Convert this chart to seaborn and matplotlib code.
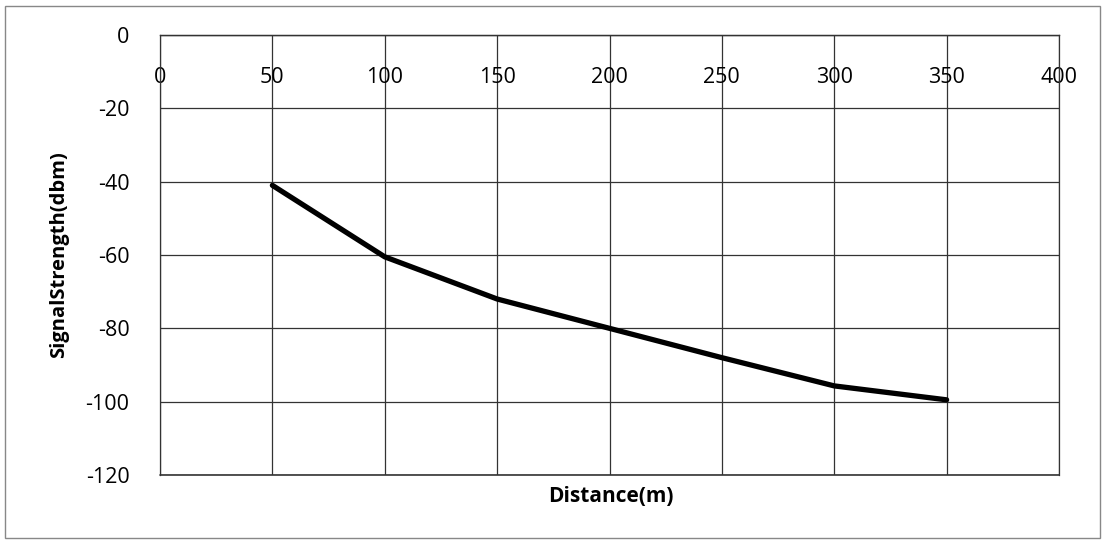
import matplotlib
matplotlib.use("Agg")
import matplotlib.pyplot as plt
import seaborn as sns
import pandas as pd
from matplotlib.patches import Rectangle

distance_m = [50, 100, 150, 200, 250, 300, 350]
signal_dbm = [-41, -60.5, -72, -80, -88, -95.7, -99.5]
x_ticks = [0, 50, 100, 150, 200, 250, 300, 350, 400]
y_ticks = [0, -20, -40, -60, -80, -100, -120]

sns.set_theme(style="white")
plt.rcParams['font.family'] = ['Open Sans', 'DejaVu Sans']

df = pd.DataFrame({"Distance(m)": distance_m, "SignalStrength(dbm)": signal_dbm})

fig = plt.figure(figsize=(11.03, 5.40), dpi=100)
ax = fig.add_axes([160/1103, 1-475/540, (1059-160)/1103, (475-35)/540])

sns.lineplot(data=df, x="Distance(m)", y="SignalStrength(dbm)", ax=ax,
             color="black", linewidth=3.8, solid_joinstyle="round",
             solid_capstyle="round")

ax.set_xlim(0, 400)
ax.set_ylim(-120, 0)
ax.set_xticks(x_ticks)
ax.set_yticks(y_ticks)
ax.set_xticklabels([str(v) for v in x_ticks])
ax.set_yticklabels([str(v) for v in y_ticks])

ax.grid(True, color="#333333", linewidth=0.9)
ax.set_axisbelow(True)

for s in ["left", "right", "top", "bottom"]:
    ax.spines[s].set_visible(True)
    ax.spines[s].set_color("#333333")
    ax.spines[s].set_linewidth(0.9)
ax.spines["bottom"].set_position(("data", 0))
# bottom frame of plot area
ax.axhline(-120, color="#333333", linewidth=1.2, clip_on=False)

ax.tick_params(axis="x", length=0, pad=23, labelsize=15.5, colors="black")
ax.tick_params(axis="y", length=0, pad=22, labelsize=15.5, colors="black")

ax.set_xlabel("")
ax.set_ylabel("SignalStrength(dbm)", fontsize=14.5, fontweight="bold", labelpad=12,
              color="black")
fig.text(611/1103, 1-497/540, "Distance(m)", fontsize=15, fontweight="bold",
         ha="center", va="center", color="black")

fig.patches.append(Rectangle((5/1103, 2/540), 1095/1103, 532/540, transform=fig.transFigure,
                             fill=False, edgecolor="#888888", linewidth=1))

fig.savefig("out.png", dpi=100, facecolor="white")
